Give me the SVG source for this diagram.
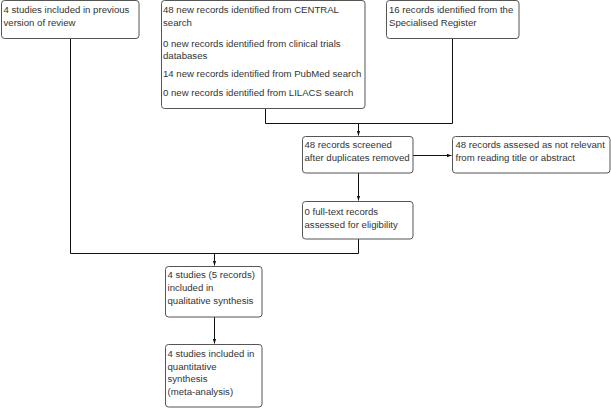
<svg xmlns="http://www.w3.org/2000/svg" width="611" height="408" viewBox="0 0 611 408">
<style>
.box{fill:#fff;stroke:#555;stroke-width:1}
.t{font-family:"Liberation Sans",Arial,sans-serif;font-size:9.6px;fill:#333}
.c{fill:none;stroke:#111;stroke-width:1}
</style>
<defs>
<marker id="ah" viewBox="0 0 6 6" refX="6" refY="3" markerWidth="5" markerHeight="5" markerUnits="userSpaceOnUse" orient="auto">
<path d="M0,0.8 L6,3 L0,5.2 Z" fill="#111"/>
</marker>
</defs>
<rect width="611" height="408" fill="#fff"/>
<g id="connectors">
<path class="c" d="M70.5,38 V253.5 H358.5"/>
<path class="c" d="M358.5,239 V253.5"/>
<path class="c" d="M214.5,253.5 V265.5" marker-end="url(#ah)"/>
<path class="c" d="M265.5,108 V123.5 H452.5 V38"/>
<path class="c" d="M358.5,123.5 V135.5" marker-end="url(#ah)"/>
<path class="c" d="M413,155.5 H451.5" marker-end="url(#ah)"/>
<path class="c" d="M358.5,173 V200.5" marker-end="url(#ah)"/>
<path class="c" d="M214.5,317 V343.5" marker-end="url(#ah)"/>
</g>
<g id="prev">
<rect class="box" x="1.5" y="0.5" width="137.5" height="38" rx="3"/>
<text class="t" x="3.5" y="13.3">4 studies included in previous</text>
<text class="t" x="3.5" y="25.8">version of review</text>
</g>
<g id="searches">
<rect class="box" x="161.5" y="0.5" width="203.5" height="108" rx="3"/>
<text class="t" x="163" y="13.3">48 new records identified from CENTRAL</text>
<text class="t" x="163" y="25.8">search</text>
<text class="t" x="163" y="46.5">0 new records identified from clinical trials</text>
<text class="t" x="163" y="58.5">databases</text>
<text class="t" x="163" y="77.3">14 new records identified from PubMed search</text>
<text class="t" x="163" y="96">0 new records identified from LILACS search</text>
</g>
<g id="register">
<rect class="box" x="386.5" y="0.5" width="132.5" height="38" rx="3"/>
<text class="t" x="389" y="13.3">16 records identified from the</text>
<text class="t" x="389" y="25.8">Specialised Register</text>
</g>
<g id="screened">
<rect class="box" x="302.5" y="136.5" width="110.5" height="36.5" rx="3"/>
<text class="t" x="304.5" y="148.3">48 records screened</text>
<text class="t" x="304.5" y="161">after duplicates removed</text>
</g>
<g id="excluded">
<rect class="box" x="452.5" y="136.5" width="157.5" height="36.5" rx="3"/>
<text class="t" x="455.5" y="148.3">48 records assesed as not relevant</text>
<text class="t" x="455.5" y="161">from reading title or abstract</text>
</g>
<g id="fulltext">
<rect class="box" x="302.5" y="201.5" width="110.5" height="37.5" rx="3"/>
<text class="t" x="304.5" y="215">0 full-text records</text>
<text class="t" x="304.5" y="227.5">assessed for eligibility</text>
</g>
<g id="qualitative">
<rect class="box" x="165.5" y="266.5" width="96.5" height="50.5" rx="3"/>
<text class="t" x="167.5" y="278.3">4 studies (5 records)</text>
<text class="t" x="167.5" y="291">included in</text>
<text class="t" x="167.5" y="304">qualitative synthesis</text>
</g>
<g id="quantitative">
<rect class="box" x="165.5" y="344.5" width="96.5" height="62.5" rx="3"/>
<text class="t" x="167.5" y="357">4 studies included in</text>
<text class="t" x="167.5" y="369.5">quantitative</text>
<text class="t" x="167.5" y="382">synthesis</text>
<text class="t" x="167.5" y="394.7">(meta-analysis)</text>
</g>
</svg>
